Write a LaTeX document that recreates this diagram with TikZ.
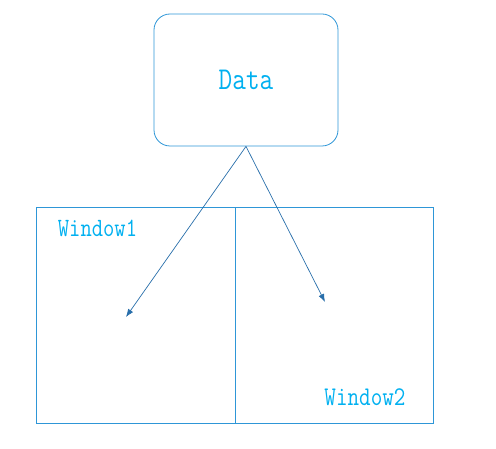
\documentclass[tikz,border=0pt]{standalone}
\usepackage{tikz}
\usetikzlibrary{arrows.meta}
\definecolor{boxblue}{RGB}{46,150,215}
\definecolor{textblue}{RGB}{0,176,240}
\definecolor{arrowblue}{RGB}{40,110,170}
\begin{document}
\begin{tikzpicture}[x=1pt,y=-1pt]
            \tikzstyle{every node}+=[inner sep=0pt]
            \useasboundingbox (0,0) rectangle (496,449);
            \node (data) [draw=boxblue, line width=0.8pt, rounded corners=16pt, minimum width=184pt, minimum height=132pt] at (246,80) {};
            \draw (246,80) node [text=textblue, font=\ttfamily\fontsize{26.5}{30}\selectfont, yscale=1.2, transform shape] {Data};
            \node (win1) [draw=boxblue, line width=0.8pt, minimum width=199pt, minimum height=216pt] at (135.5,315) {};
            \node (win2) [draw=boxblue, line width=0.8pt, minimum width=198pt, minimum height=216pt] at (334,315) {};
            \draw (97.5,228) node [text=textblue, font=\ttfamily\fontsize{22}{25}\selectfont, yscale=1.2, transform shape] {Window1};
            \draw (365,397) node [text=textblue, font=\ttfamily\fontsize{22.5}{25}\selectfont, yscale=1.2, transform shape] {Window2};
            \coordinate (end1) at (126,317);
            \coordinate (end2) at (325,302);
            \draw [arrowblue, line width=0.7pt, -{Latex[length=8pt,width=6pt]}] (data.south) -- (end1);
            \draw [arrowblue, line width=0.7pt, -{Latex[length=8pt,width=6pt]}] (data.south) -- (end2);
\end{tikzpicture}
\end{document}
